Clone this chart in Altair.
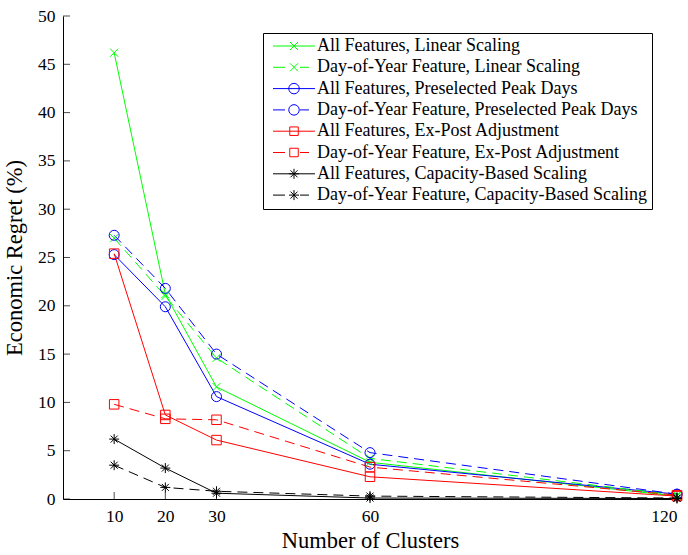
import altair as alt
import pandas as pd

clusters = [10, 20, 30, 60, 120]
series = [
    "All Features, Linear Scaling",
    "Day-of-Year Feature, Linear Scaling",
    "All Features, Preselected Peak Days",
    "Day-of-Year Feature, Preselected Peak Days",
    "All Features, Ex-Post Adjustment",
    "Day-of-Year Feature, Ex-Post Adjustment",
    "All Features, Capacity-Based Scaling",
    "Day-of-Year Feature, Capacity-Based Scaling",
]
all_linear = [46.2, 21.2, 11.6, 3.8, 0.3]
doy_linear = [27.0, 21.0, 14.6, 4.2, 0.4]
all_peak = [25.3, 19.9, 10.6, 3.6, 0.5]
doy_peak = [27.3, 21.8, 15.0, 4.8, 0.5]
all_expost = [25.4, 8.7, 6.1, 2.3, 0.3]
doy_expost = [9.8, 8.3, 8.2, 3.3, 0.4]
all_cap = [6.2, 3.2, 0.6, 0.1, 0.05]
doy_cap = [3.5, 1.2, 0.8, 0.3, 0.1]
y_ticks = [0, 5, 10, 15, 20, 25, 30, 35, 40, 45, 50]

colors = ["#00ff00", "#00ff00", "#0000ff", "#0000ff", "#ff0000", "#ff0000", "#000000", "#000000"]

X_PATH = "M-1,-1L1,1M-1,1L1,-1"
STAR_PATH = "M-1,0L1,0M0,-1L0,1M-0.7,-0.7L0.7,0.7M-0.7,0.7L0.7,-0.7"

# legend symbols (line + marker), unit = 5 px (symbol size 100)
SOLID = "M-4.2,0L4.2,0"
DASHED = "M-4.2,0L-1.8,0M1.2,0L3.0,0"
LX = "M-0.8,-0.8L0.8,0.8M-0.8,0.8L0.8,-0.8"
LO = "M1.05,0A1.05,1.05 0 1,1 -1.05,0A1.05,1.05 0 1,1 1.05,0"
LS = "M-0.85,-0.85L0.85,-0.85L0.85,0.85L-0.85,0.85Z"
LST = "M-1,0L1,0M0,-1L0,1M-0.7,-0.7L0.7,0.7M-0.7,0.7L0.7,-0.7"
legend_paths = [SOLID + LX, DASHED + LX, SOLID + LO, DASHED + LO,
                SOLID + LS, DASHED + LS, SOLID + LST, DASHED + LST]

values = [all_linear, doy_linear, all_peak, doy_peak, all_expost, doy_expost, all_cap, doy_cap]
rows = []
for name, vals in zip(series, values):
    for c, v in zip(clusters, vals):
        rows.append({"series": name, "clusters": c, "regret": v})
df = pd.DataFrame(rows)

FONT = "Liberation Serif"

legend_def = alt.Legend(title=None, orient="none", legendX=200, legendY=17,
                        strokeColor="black", fillColor="white", padding=4,
                        labelFont=FONT, labelFontSize=18, labelColor="black",
                        labelLimit=0, symbolOpacity=1, symbolStrokeWidth=1,
                        symbolSize=100, rowPadding=3.3, labelOffset=14, symbolOffset=18,
                        cornerRadius=0)

x_enc = alt.X("clusters:Q", scale=alt.Scale(domain=[0, 120], nice=False),
              axis=alt.Axis(values=clusters, title="Number of Clusters", format="d"))
y_enc = alt.Y("regret:Q", scale=alt.Scale(domain=[0, 50], nice=False),
              axis=alt.Axis(values=y_ticks, title="Economic Regret (%)", format="d"))
color_enc = alt.Color("series:N", scale=alt.Scale(domain=series, range=colors), legend=legend_def)

base = alt.Chart(df)

solid_names = series[0::2]
dashed_names = series[1::2]

lines_solid = base.transform_filter(alt.FieldOneOfPredicate(field="series", oneOf=solid_names)).mark_line(
    strokeWidth=1).encode(x=x_enc, y=y_enc, color=color_enc)
lines_dashed = base.transform_filter(alt.FieldOneOfPredicate(field="series", oneOf=dashed_names)).mark_line(
    strokeWidth=1, strokeDash=[10, 6]).encode(x=x_enc, y=y_enc, color=color_enc)

def marker_layer(names, shape, size):
    return base.transform_filter(alt.FieldOneOfPredicate(field="series", oneOf=names)).mark_point(
        shape=shape, size=size, filled=False, strokeWidth=1, opacity=1
    ).encode(x="clusters:Q", y="regret:Q", color=color_enc)

m_x = marker_layer(series[0:2], X_PATH, 64)
m_o = marker_layer(series[2:4], "circle", 100)
m_s = marker_layer(series[4:6], "square", 90)
m_st = marker_layer(series[6:8], STAR_PATH, 100)

legend_layer = base.mark_point(filled=False, opacity=0, size=100, strokeWidth=1).encode(
    x="clusters:Q", y="regret:Q",
    color=color_enc,
    shape=alt.Shape("series:N", scale=alt.Scale(domain=series, range=legend_paths),
                    legend=legend_def),
)

ytick_df = pd.DataFrame({"v": y_ticks})
xtick_df = pd.DataFrame({"v": clusters})
yticks = alt.Chart(ytick_df).mark_tick(orient="horizontal", size=7, thickness=1, color="black", xOffset=3.5).encode(
    y="v:Q", x=alt.datum(0))
xticks = alt.Chart(xtick_df).mark_tick(orient="vertical", size=7, thickness=1, color="black", yOffset=-3.5).encode(
    x="v:Q", y=alt.datum(0))

chart = alt.layer(lines_solid, lines_dashed, m_x, m_o, m_s, m_st, legend_layer, yticks, xticks).properties(
    width=614, height=483,
    autosize=alt.AutoSizeParams(type="none"),
    padding={"left": 63, "top": 16, "right": 11, "bottom": 56},
).configure_view(stroke=None).configure_axis(
    labelFont=FONT, labelFontSize=17.5, labelColor="black", titleFont=FONT, titleFontSize=22.5,
    titleFontWeight="normal", titleColor="black", grid=False, ticks=False,
    domainColor="black", domainWidth=1, labelPadding=8,
).configure_axisY(titlePadding=11).configure_axisX(titlePadding=5)

chart.save("out.html", embed_options={"renderer": "svg", "actions": False})
